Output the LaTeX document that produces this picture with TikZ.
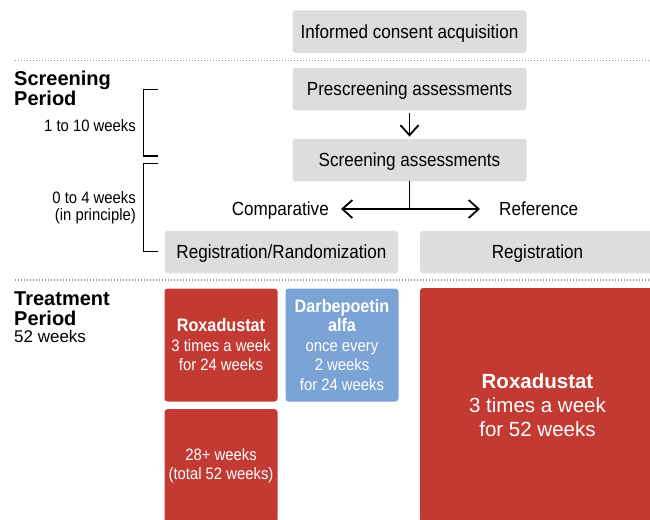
\documentclass[tikz,border=0pt]{standalone}
\usepackage{fontspec}
\setmainfont{Liberation Sans}
\newfontfamily\narrowfont[FakeStretch=0.9]{Liberation Sans}
\usetikzlibrary{arrows.meta,positioning}
\definecolor{boxgray}{RGB}{221,221,221}
\definecolor{roxred}{RGB}{195,58,51}
\definecolor{darbblue}{RGB}{123,163,214}
\definecolor{dotgray}{RGB}{150,150,150}
\tikzset{
 stepbox/.style={
 rectangle,
 rounded corners=3pt,
 fill=boxgray,
 minimum width=234pt,
 minimum height=42.5pt,
 inner sep=0pt,
 text depth=0pt,
 align=center,
 font=\narrowfont\fontsize{19}{22}\selectfont
 },
 drugbox/.style={
 rectangle,
 rounded corners=3pt,
 text=white,
 align=center,
 minimum width=113pt,
 minimum height=113pt,
 inner sep=0pt,
 font=\narrowfont\fontsize{16.5}{19.5}\selectfont
 },
 periodlabel/.style={
 anchor=base west,
 align=left,
 inner sep=0pt,
 font=\bfseries\fontsize{20}{19.5}\selectfont
 },
 spanlabel/.style={
 anchor=east,
 align=right,
 inner sep=0pt,
 font=\narrowfont\fontsize{16.5}{17}\selectfont
 },
 branchlabel/.style={inner sep=0pt, font=\narrowfont\fontsize{19}{22}\selectfont},
 flowline/.style={line width=1.8pt},
 flowarrow/.style={-{Straight Barb[length=10pt,width=18pt]}, line width=1.8pt},
 bracket/.style={line width=1.3pt},
 divider/.style={draw=dotgray, line width=1.3pt, dash pattern=on 1.3pt off 1.7pt}
}

\begin{document}
\begin{tikzpicture}[x=1pt, y=-1pt]
 \useasboundingbox (0,0) rectangle (650,519);

 % dividers between phases
 \draw[divider] (15,60.5) -- (650,60.5);
 \draw[divider] (15,280) -- (650,280);

 % screening flow
 \node[stepbox] (consent) at (409.5,31.7) {Informed consent acquisition};
 \node[stepbox] (prescreen) at (409.5,89) {Prescreening assessments};
 \node[stepbox] (screen) at (409.5,160) {Screening assessments};
 \node[stepbox, minimum width=233pt] (regrand) at (281.5,252) {Registration/Randomization};
 \node[stepbox, minimum width=235pt] (reg) at (537.5,252) {Registration};

 \draw[flowarrow, shorten <=2.5pt, shorten >=2pt] (prescreen) -- (screen);

 \coordinate (split) at (409.5,209);
 \node[branchlabel, anchor=base east] (comp) at (329,215.8) {Comparative};
 \node[branchlabel, anchor=base west] (ref) at (499,215.8) {Reference};
 \draw[flowline] (screen.south) -- (split);
 \draw[flowarrow, shorten >=12pt] (split) -- (split -| comp.east);
 \draw[flowarrow, shorten >=19pt] (split) -- (split -| ref.west);

 % period labels and durations
 \node[periodlabel] (screenper) at (14,105) {Screening\\Period};
 \node[periodlabel] (treatper) at (14,325) {Treatment\\Period};
 \node[below=5pt of treatper.south west, anchor=north west, inner sep=0pt,
 font=\fontsize{17}{19}\selectfont] (treatlen) {52 weeks};

 \draw[bracket] (158,89.3) -| (143.3,156) -- (158,156);
 \draw[bracket] (158,163.3) -| (143.3,251.7) -- (158,251.7);
 \node[spanlabel] (span1) at (136,126) {1 to 10 weeks};
 \node[spanlabel] (span2) at (136,208) {0 to 4 weeks\\(in principle)};

 % treatment arms
 \node[drugbox, fill=roxred] (rox24) at (221,345) {{\bfseries\fontsize{18}{19.5}\selectfont Roxadustat}\\3 times a week\\for 24 weeks};
 \node[drugbox, fill=darbblue] (darb) at (342,345) {{\bfseries\fontsize{18}{19.5}\selectfont Darbepoetin}\\{\bfseries\fontsize{18}{19.5}\selectfont alfa}\\once every\\2 weeks\\for 24 weeks};
 \node[drugbox, fill=roxred] (rox28) at (221,465.7) {28+ weeks\\(total 52 weeks)};
 \node[drugbox, fill=roxred, minimum width=235pt, minimum height=234pt,
 font=\fontsize{20.5}{24}\selectfont] (rox52) at (537.5,405) {{\bfseries Roxadustat}\\3 times a week\\for 52 weeks};
\end{tikzpicture}
\end{document}
